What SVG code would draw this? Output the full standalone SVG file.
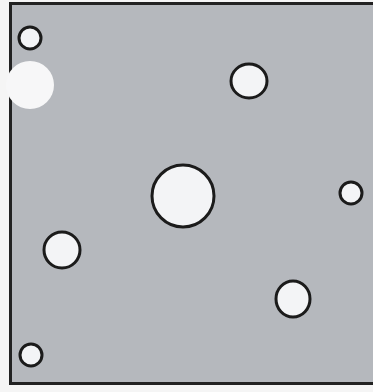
<svg xmlns="http://www.w3.org/2000/svg" width="373" height="392" viewBox="0 0 373 392">
<style>
.c{fill:#f3f4f6;stroke:#1b1b1b;stroke-width:3}
</style>
<rect x="0" y="0" width="373" height="392" fill="#f5f5f5"/>
<g id="box"><rect x="10.5" y="3.5" width="370" height="380" fill="#b5b8bd" stroke="#222" stroke-width="3"/></g>
<g id="c1"><circle class="c" cx="30" cy="38" r="11"/></g>
<g id="c2"><circle cx="30" cy="85" r="24" fill="#f7f7f8"/></g>
<g id="c3"><ellipse class="c" cx="249" cy="81" rx="18" ry="17"/></g>
<g id="c4"><circle class="c" cx="183" cy="196" r="31"/></g>
<g id="c5"><circle class="c" cx="351" cy="193" r="11"/></g>
<g id="c6"><circle class="c" cx="62" cy="250" r="18"/></g>
<g id="c7"><ellipse class="c" cx="293" cy="299" rx="17" ry="18"/></g>
<g id="c8"><circle class="c" cx="31" cy="355" r="11"/></g>
<g id="connectors"></g>
</svg>
